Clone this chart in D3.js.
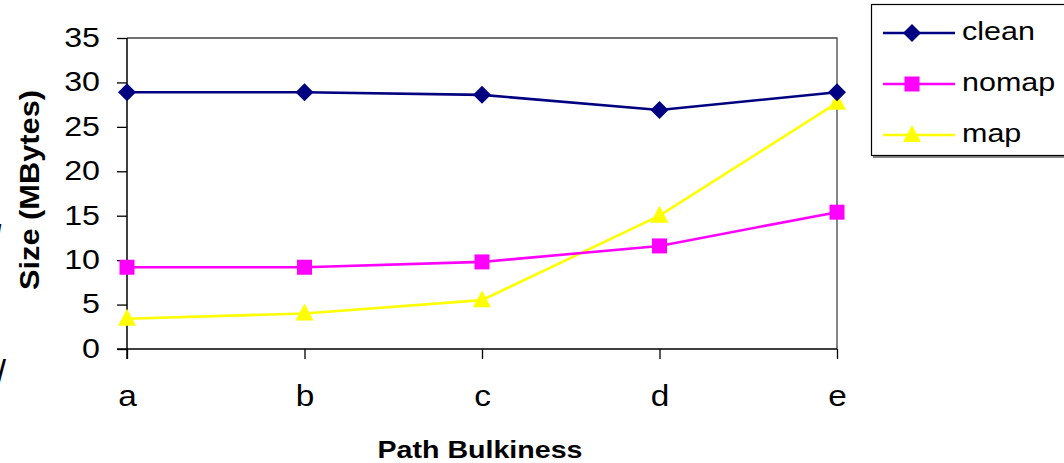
<!DOCTYPE html>
<html><head><meta charset="utf-8">
<script src="https://cdn.jsdelivr.net/npm/d3@7"></script>
<style>body{margin:0;background:#fff}svg{display:block}</style>
</head><body><svg id="c" width="1064" height="463"></svg>
<script>
const categories = ["a","b","c","d","e"];
const clean = [28.9, 28.9, 28.6, 26.9, 28.9];
const nomap = [9.2, 9.2, 9.8, 11.6, 15.4];
const map = [3.4, 4.0, 5.5, 15.0, 27.7];
const yTicks = [0,5,10,15,20,25,30,35];
const seriesNames = ["clean","nomap","map"];

const FONT = "Arial, 'Liberation Sans', sans-serif";
const svg = d3.select("#c").attr("font-family", FONT);
const L = 127, R = 837, T = 38, B = 349;
const x = d3.scalePoint().domain(categories).range([L, R]);
const y = d3.scaleLinear().domain([0, 35]).range([B, T]);

// plot border (top & right)
svg.append("path").attr("d", `M${L},${T}H${R}V${B}`).attr("fill","none").attr("stroke","#444").attr("stroke-width",1.3);

// y axis
const SX = 1.15;
const ya = svg.append("g").attr("transform",`translate(${L},0)`)
  .call(d3.axisLeft(y).tickValues(yTicks).tickSize(10));
ya.attr("font-family", FONT);
ya.select(".domain").attr("stroke","#000").attr("stroke-width",1.5).attr("d",`M0,${T}V${B+10}`);
ya.selectAll(".tick line").attr("stroke","#000").attr("stroke-width",1.3);
ya.selectAll("text").attr("font-size",28).attr("fill","#000").attr("dy","0.3em")
  .attr("x",-27/SX).attr("transform",`scale(${SX},1)`);

// x axis
const xa = svg.append("g").attr("transform",`translate(0,${B})`)
  .call(d3.axisBottom(x).tickSize(10));
xa.attr("font-family", FONT);
xa.select(".domain").attr("stroke","#000").attr("stroke-width",1.5).attr("d",`M${L-10},0H${R}`);
xa.selectAll(".tick line").attr("stroke","#000").attr("stroke-width",1.3);
xa.selectAll("text").attr("font-size",29).attr("fill","#000").attr("dy",0).attr("y",57)
  .attr("transform",`scale(${SX},1)`);

// titles
svg.append("text").attr("transform","translate(39,190) rotate(-90)").attr("text-anchor","middle")
  .attr("font-size",28).attr("font-weight","bold").attr("textLength",200).attr("lengthAdjust","spacingAndGlyphs")
  .text("Size (MBytes)");
svg.append("text").attr("x",480).attr("y",458).attr("text-anchor","middle")
  .attr("font-size",24).attr("font-weight","bold").attr("textLength",205).attr("lengthAdjust","spacingAndGlyphs")
  .text("Path Bulkiness");

// stray slashes at left edge
svg.append("text").attr("x",-3).attr("y",236).attr("font-size",16).attr("font-weight","bold").text("/");
svg.append("text").attr("x",-4).attr("y",386).attr("font-size",36).text("/");

const colors = {clean:"#000080", nomap:"#ff00ff", map:"#ffff00"};
const data = {clean, nomap, map};
const line = d3.line().x((d,i)=>x(categories[i])).y(d=>y(d));

function marker(g, name, cx, cy){
  if(name==="clean"){
    g.append("path").attr("d",`M${cx},${cy-9}L${cx+9},${cy}L${cx},${cy+9}L${cx-9},${cy}Z`).attr("fill",colors[name]);
  } else if(name==="nomap"){
    g.append("rect").attr("x",cx-7.5).attr("y",cy-7.5).attr("width",15).attr("height",15).attr("fill",colors[name]);
  } else {
    g.append("path").attr("d",`M${cx},${cy-10}L${cx+9},${cy+7}L${cx-9},${cy+7}Z`).attr("fill",colors[name]);
  }
}

["map","nomap","clean"].forEach(name=>{
  svg.append("path").datum(data[name]).attr("d",line).attr("fill","none")
    .attr("stroke",colors[name]).attr("stroke-width",2.6);
});
["map","nomap","clean"].forEach(name=>{
  const g = svg.append("g");
  data[name].forEach((v,i)=>marker(g,name,x(categories[i]),y(v)));
});

// legend
const lg = svg.append("g");
lg.append("line").attr("x1",873).attr("x2",1070).attr("y1",157).attr("y2",157).attr("stroke","#888").attr("stroke-width",2);
lg.append("rect").attr("x",871.5).attr("y",4.5).attr("width",200).attr("height",151).attr("fill","#fff").attr("stroke","#000").attr("stroke-width",1.2);
seriesNames.forEach((name,i)=>{
  const cy = 33 + i*51;
  lg.append("line").attr("x1",883).attr("x2",955).attr("y1",cy).attr("y2",cy).attr("stroke",colors[name]).attr("stroke-width",2.6);
  marker(lg,name,912,cy);
  lg.append("text").attr("transform",`translate(962,${cy+7}) scale(1.22,1)`).attr("font-size",25).text(name);
});
</script></body></html>
